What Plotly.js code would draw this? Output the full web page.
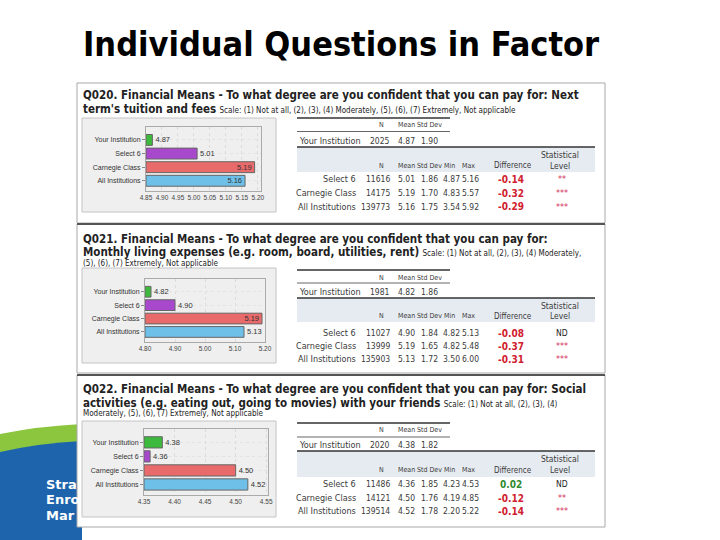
<!DOCTYPE html>
<html>
<head>
<meta charset="utf-8">
<script src="https://cdn.plot.ly/plotly-3.0.1.min.js"></script>
<style>html,body{margin:0;padding:0;background:#fff;}#chart{width:720px;height:540px;}</style>
</head>
<body>
<div id="chart"></div>
<script>
// ---------------- DATA ----------------
const slideTitle = 'Individual Questions in Factor';
const categories = ['Your Institution', 'Select 6', 'Carnegie Class', 'All Institutions'];
const compGroups = ['Select 6', 'Carnegie Class', 'All Institutions'];
const barColors = ['#3dba3d', '#a848cc', '#e96a6a', '#6fc0e8'];

const q020Title1 = 'Q020. Financial Means - To what degree are you confident that you can pay for: Next';
const q020Title2 = "term's tuition and fees";
const q020Scale = 'Scale: (1) Not at all, (2), (3), (4) Moderately, (5), (6), (7) Extremely, Not applicable';
const q020N = [2025, 11616, 14175, 139773];
const q020Mean = [4.87, 5.01, 5.19, 5.16];
const q020SD = [1.90, 1.86, 1.70, 1.75];
const q020Min = [4.87, 4.83, 3.54];
const q020Max = [5.16, 5.57, 5.92];
const q020Diff = [-0.14, -0.32, -0.29];
const q020Sig = ['**', '***', '***'];

const q021Title1 = 'Q021. Financial Means - To what degree are you confident that you can pay for:';
const q021Title2 = 'Monthly living expenses (e.g. room, board, utilities, rent)';
const q021Scale = 'Scale: (1) Not at all, (2), (3), (4) Moderately,';
const q021Scale2 = '(5), (6), (7) Extremely, Not applicable';
const q021N = [1981, 11027, 13999, 135903];
const q021Mean = [4.82, 4.90, 5.19, 5.13];
const q021SD = [1.86, 1.84, 1.65, 1.72];
const q021Min = [4.82, 4.82, 3.50];
const q021Max = [5.13, 5.48, 6.00];
const q021Diff = [-0.08, -0.37, -0.31];
const q021Sig = ['ND', '***', '***'];

const q022Title1 = 'Q022. Financial Means - To what degree are you confident that you can pay for: Social';
const q022Title2 = 'activities (e.g. eating out, going to movies) with your friends';
const q022Scale = 'Scale: (1) Not at all, (2), (3), (4)';
const q022Scale2 = 'Moderately, (5), (6), (7) Extremely, Not applicable';
const q022N = [2020, 11486, 14121, 139514];
const q022Mean = [4.38, 4.36, 4.50, 4.52];
const q022SD = [1.82, 1.85, 1.76, 1.78];
const q022Min = [4.23, 4.19, 2.20];
const q022Max = [4.53, 4.85, 5.22];
const q022Diff = [0.02, -0.12, -0.14];
const q022Sig = ['ND', '**', '***'];

const xRange020 = [4.85, 5.21], xDtick020 = 0.05;
const xRange021 = [4.80, 5.20], xDtick021 = 0.10;
const xRange022 = [4.35, 4.553], xDtick022 = 0.05;

const brandLines = ['Stra', 'Enro', 'Mar'];

// ---------------- HELPERS ----------------
const W = 720, H = 540;
const px = x => x / W;
const py = y => 1 - y / H;
const NARROW = '"DejaVu Sans Condensed", "DejaVu Sans", sans-serif';
const TXT = '#3a3a3a';

const panels = [
  {title1: q020Title1, title2: q020Title2, scale: q020Scale, scale2: null,
   N: q020N, mean: q020Mean, sd: q020SD, min: q020Min, max: q020Max, diff: q020Diff, sig: q020Sig,
   xr: xRange020, dt: xDtick020,
   frame: [83, 223], box: [118, 212], plotX: [146, 261], plotY: [127, 191],
   tY: [94.5, 108.5, null],
   tbl: {top: 118, hdr: 124.5, l2: 131.5, yrow: 141, l3: 147, bgB: 172, stat1: 155, hdr2: 166, rows: [179, 193, 207]}},
  {title1: q021Title1, title2: q021Title2, scale: q021Scale, scale2: q021Scale2,
   N: q021N, mean: q021Mean, sd: q021SD, min: q021Min, max: q021Max, diff: q021Diff, sig: q021Sig,
   xr: xRange021, dt: xDtick021,
   frame: [224, 373], box: [268, 363], plotX: [145, 265], plotY: [279, 342],
   tY: [238.5, 252.5, 263.5],
   tbl: {top: 270, hdr: 277.5, l2: 283, yrow: 291.5, l3: 298, bgB: 322, stat1: 306, hdr2: 316, rows: [333, 346, 359]}},
  {title1: q022Title1, title2: q022Title2, scale: q022Scale, scale2: q022Scale2,
   N: q022N, mean: q022Mean, sd: q022SD, min: q022Min, max: q022Max, diff: q022Diff, sig: q022Sig,
   xr: xRange022, dt: xDtick022,
   frame: [375, 527], box: [421, 517], plotX: [144, 268], plotY: [429, 495],
   tY: [388.5, 402.5, 413.5],
   tbl: {top: 423, hdr: 430, l2: 437, yrow: 445, l3: 451, bgB: 477, stat1: 458.5, hdr2: 470, rows: [484, 498, 511]}}
];

const shapes = [];
const annotations = [];
const traces = [];
const layout = {
  width: W, height: H, margin: {l: 0, r: 0, t: 0, b: 0},
  paper_bgcolor: '#ffffff', plot_bgcolor: '#ffffff', showlegend: false,
  shapes, annotations, bargap: 0.2
};

function ann(text, x, y, o) {
  o = o || {};
  annotations.push({xref: 'paper', yref: 'paper', x: px(x), y: py(y), text: text, showarrow: false,
    xanchor: o.xa || 'left', yanchor: 'middle', align: o.xa || 'left', borderpad: 0,
    font: {family: o.family || NARROW, size: o.size || 10, color: o.color || TXT, weight: o.weight || 400}});
}
function rect(x0, y0, x1, y1, fill, line, lw) {
  shapes.push({type: 'rect', xref: 'paper', yref: 'paper', layer: 'below',
    x0: px(x0), x1: px(x1), y0: py(y1), y1: py(y0), fillcolor: fill,
    line: {color: line || 'rgba(0,0,0,0)', width: lw === undefined ? 1 : lw}});
}
function hline(x0, x1, y, color, w) {
  shapes.push({type: 'line', xref: 'paper', yref: 'paper', layer: 'above',
    x0: px(x0), x1: px(x1), y0: py(y), y1: py(y), line: {color: color, width: w}});
}

// ---------------- BACKGROUND DECORATION ----------------
shapes.push({type: 'path', xref: 'paper', yref: 'paper', layer: 'below',
  path: `M ${px(0)} ${py(434)} Q ${px(40)} ${py(426)} ${px(82)} ${py(424)} L ${px(82)} ${py(446)} Q ${px(40)} ${py(447)} ${px(0)} ${py(455)} Z`,
  fillcolor: '#8cc63f', line: {width: 0}});
shapes.push({type: 'path', xref: 'paper', yref: 'paper', layer: 'below',
  path: `M ${px(0)} ${py(452)} Q ${px(40)} ${py(443)} ${px(82)} ${py(441)} L ${px(82)} ${py(540)} L ${px(0)} ${py(540)} Z`,
  fillcolor: '#1d64ad', line: {width: 0}});
brandLines.forEach((t, i) => ann(t, 45, 484 + i * 15.5, {family: '"DejaVu Sans", sans-serif', size: 13, color: '#ffffff', weight: 700}));

// slide title
ann(slideTitle, 82, 44, {size: 34, color: '#000', weight: 700});

// ---------------- PANELS ----------------
const colX = {label: 357, N: 391, mean: 406, sd: 429, min: 451, max: 470, diff: 511, stat: 562};
const fmt = v => v.toFixed(2);
const HS = 7, VS = 8.5, LS = 9;

panels.forEach((p, k) => {
  const s = k === 0 ? '' : String(k + 1);
  // panel frame
  rect(77, p.frame[0], 605, p.frame[1], '#ffffff', '#a8a8a8', 1);
  if (k > 0) hline(77, 605, p.frame[0], '#555', 2);
  // chart box
  rect(82, p.box[0], 276, p.box[1], '#efefef', '#c4c4c4', 1);

  // titles
  ann(p.title1, 82, p.tY[0], {size: 11.5, weight: 700, color: '#222'});
  ann('<b>' + p.title2 + '</b> <span style="font-size:8px">' + p.scale + '</span>', 82, p.tY[1], {size: 11.5, color: '#222'});
  if (p.scale2) ann(p.scale2, 82, p.tY[2], {size: 8, color: '#222'});

  // bars (drawn from the axis origin p.xr[0] to each mean)
  const span = p.xr[1] - p.xr[0];
  traces.push({
    type: 'bar', orientation: 'h', y: categories,
    x: p.mean.map(v => v - p.xr[0]), base: p.xr[0],
    xaxis: 'x' + s, yaxis: 'y' + s,
    marker: {color: barColors, line: {color: '#666', width: 1}},
    text: p.mean.map(fmt),
    textposition: p.mean.map(v => (v - p.xr[0]) / span > 0.85 ? 'inside' : 'outside'),
    insidetextanchor: 'end', constraintext: 'none', cliponaxis: false,
    textfont: {family: '"Liberation Sans", sans-serif', size: 7.5, color: '#333'},
    hoverinfo: 'skip'
  });

  layout['xaxis' + s] = {
    domain: [px(p.plotX[0]), px(p.plotX[1])], anchor: 'y' + s,
    range: p.xr, tick0: p.xr[0], dtick: p.dt, tickformat: '.2f',
    showgrid: true, gridcolor: '#dcdcdc', griddash: 'dot', zeroline: false,
    showline: true, linecolor: '#aaa', mirror: true, ticks: '',
    tickfont: {family: '"Liberation Sans", sans-serif', size: 6.5, color: '#444'}, fixedrange: true
  };
  layout['yaxis' + s] = {
    domain: [py(p.plotY[1]), py(p.plotY[0])], anchor: 'x' + s,
    type: 'category', categoryorder: 'array', categoryarray: categories,
    range: [3.75, -0.95], showgrid: true, gridcolor: '#e2e2e2', griddash: 'dot',
    showline: true, linecolor: '#aaa', mirror: true, ticks: 'outside', ticklen: 3, tickcolor: '#888',
    tickfont: {family: '"Liberation Sans", sans-serif', size: 7, color: '#333'}, fixedrange: true
  };

  // ----- tables -----
  const t = p.tbl;
  // top table
  hline(297, 450, t.top, '#333', 1.5);
  ann('N', 381, t.hdr, {xa: 'center', size: HS});
  ann('Mean', colX.mean, t.hdr, {xa: 'center', size: HS});
  ann('Std Dev', colX.sd, t.hdr, {xa: 'center', size: HS});
  hline(297, 450, t.l2, '#666', 1);
  ann(categories[0], 298, t.yrow, {size: LS});
  ann(String(p.N[0]), colX.N, t.yrow, {xa: 'right', size: VS});
  ann(fmt(p.mean[0]), colX.mean, t.yrow, {xa: 'center', size: VS});
  ann(fmt(p.sd[0]), colX.sd, t.yrow, {xa: 'center', size: VS});
  // comparison table header
  rect(297, t.l3, 595, t.bgB, '#e6ebf1', null, 0);
  hline(297, 595, t.l3, '#333', 1.5);
  ann('N', 381, t.hdr2, {xa: 'center', size: HS});
  ann('Mean', colX.mean, t.hdr2, {xa: 'center', size: HS});
  ann('Std Dev', colX.sd, t.hdr2, {xa: 'center', size: HS});
  ann('Min', colX.min - 2, t.hdr2, {xa: 'center', size: HS});
  ann('Max', colX.max - 2, t.hdr2, {xa: 'center', size: HS});
  ann('Difference', colX.diff + 2, t.hdr2, {xa: 'center', size: 8});
  ann('Statistical', 560, t.stat1, {xa: 'center', size: 8.5});
  ann('Level', 560, t.hdr2, {xa: 'center', size: 8.5});
  compGroups.forEach((g, i) => {
    const y = t.rows[i];
    ann(g, colX.label, y, {xa: 'right', size: LS});
    ann(String(p.N[i + 1]), colX.N, y, {xa: 'right', size: VS});
    ann(fmt(p.mean[i + 1]), colX.mean, y, {xa: 'center', size: VS});
    ann(fmt(p.sd[i + 1]), colX.sd, y, {xa: 'center', size: VS});
    ann(fmt(p.min[i]), colX.min, y, {xa: 'center', size: VS});
    ann(fmt(p.max[i]), colX.max, y, {xa: 'center', size: VS});
    const d = p.diff[i];
    ann((d < 0 ? '-' : '') + Math.abs(d).toFixed(2), colX.diff, y,
        {xa: 'center', size: 10, weight: 700, color: d < 0 ? '#d0202e' : '#2e8b2e'});
    const sg = p.sig[i];
    ann(sg, colX.stat, y, {xa: 'center', size: sg === 'ND' ? 8.5 : 9, color: sg === 'ND' ? '#222' : '#d0305a'});
  });
});

Plotly.newPlot('chart', traces, layout, {staticPlot: true, displayModeBar: false});
</script>
</body>
</html>
